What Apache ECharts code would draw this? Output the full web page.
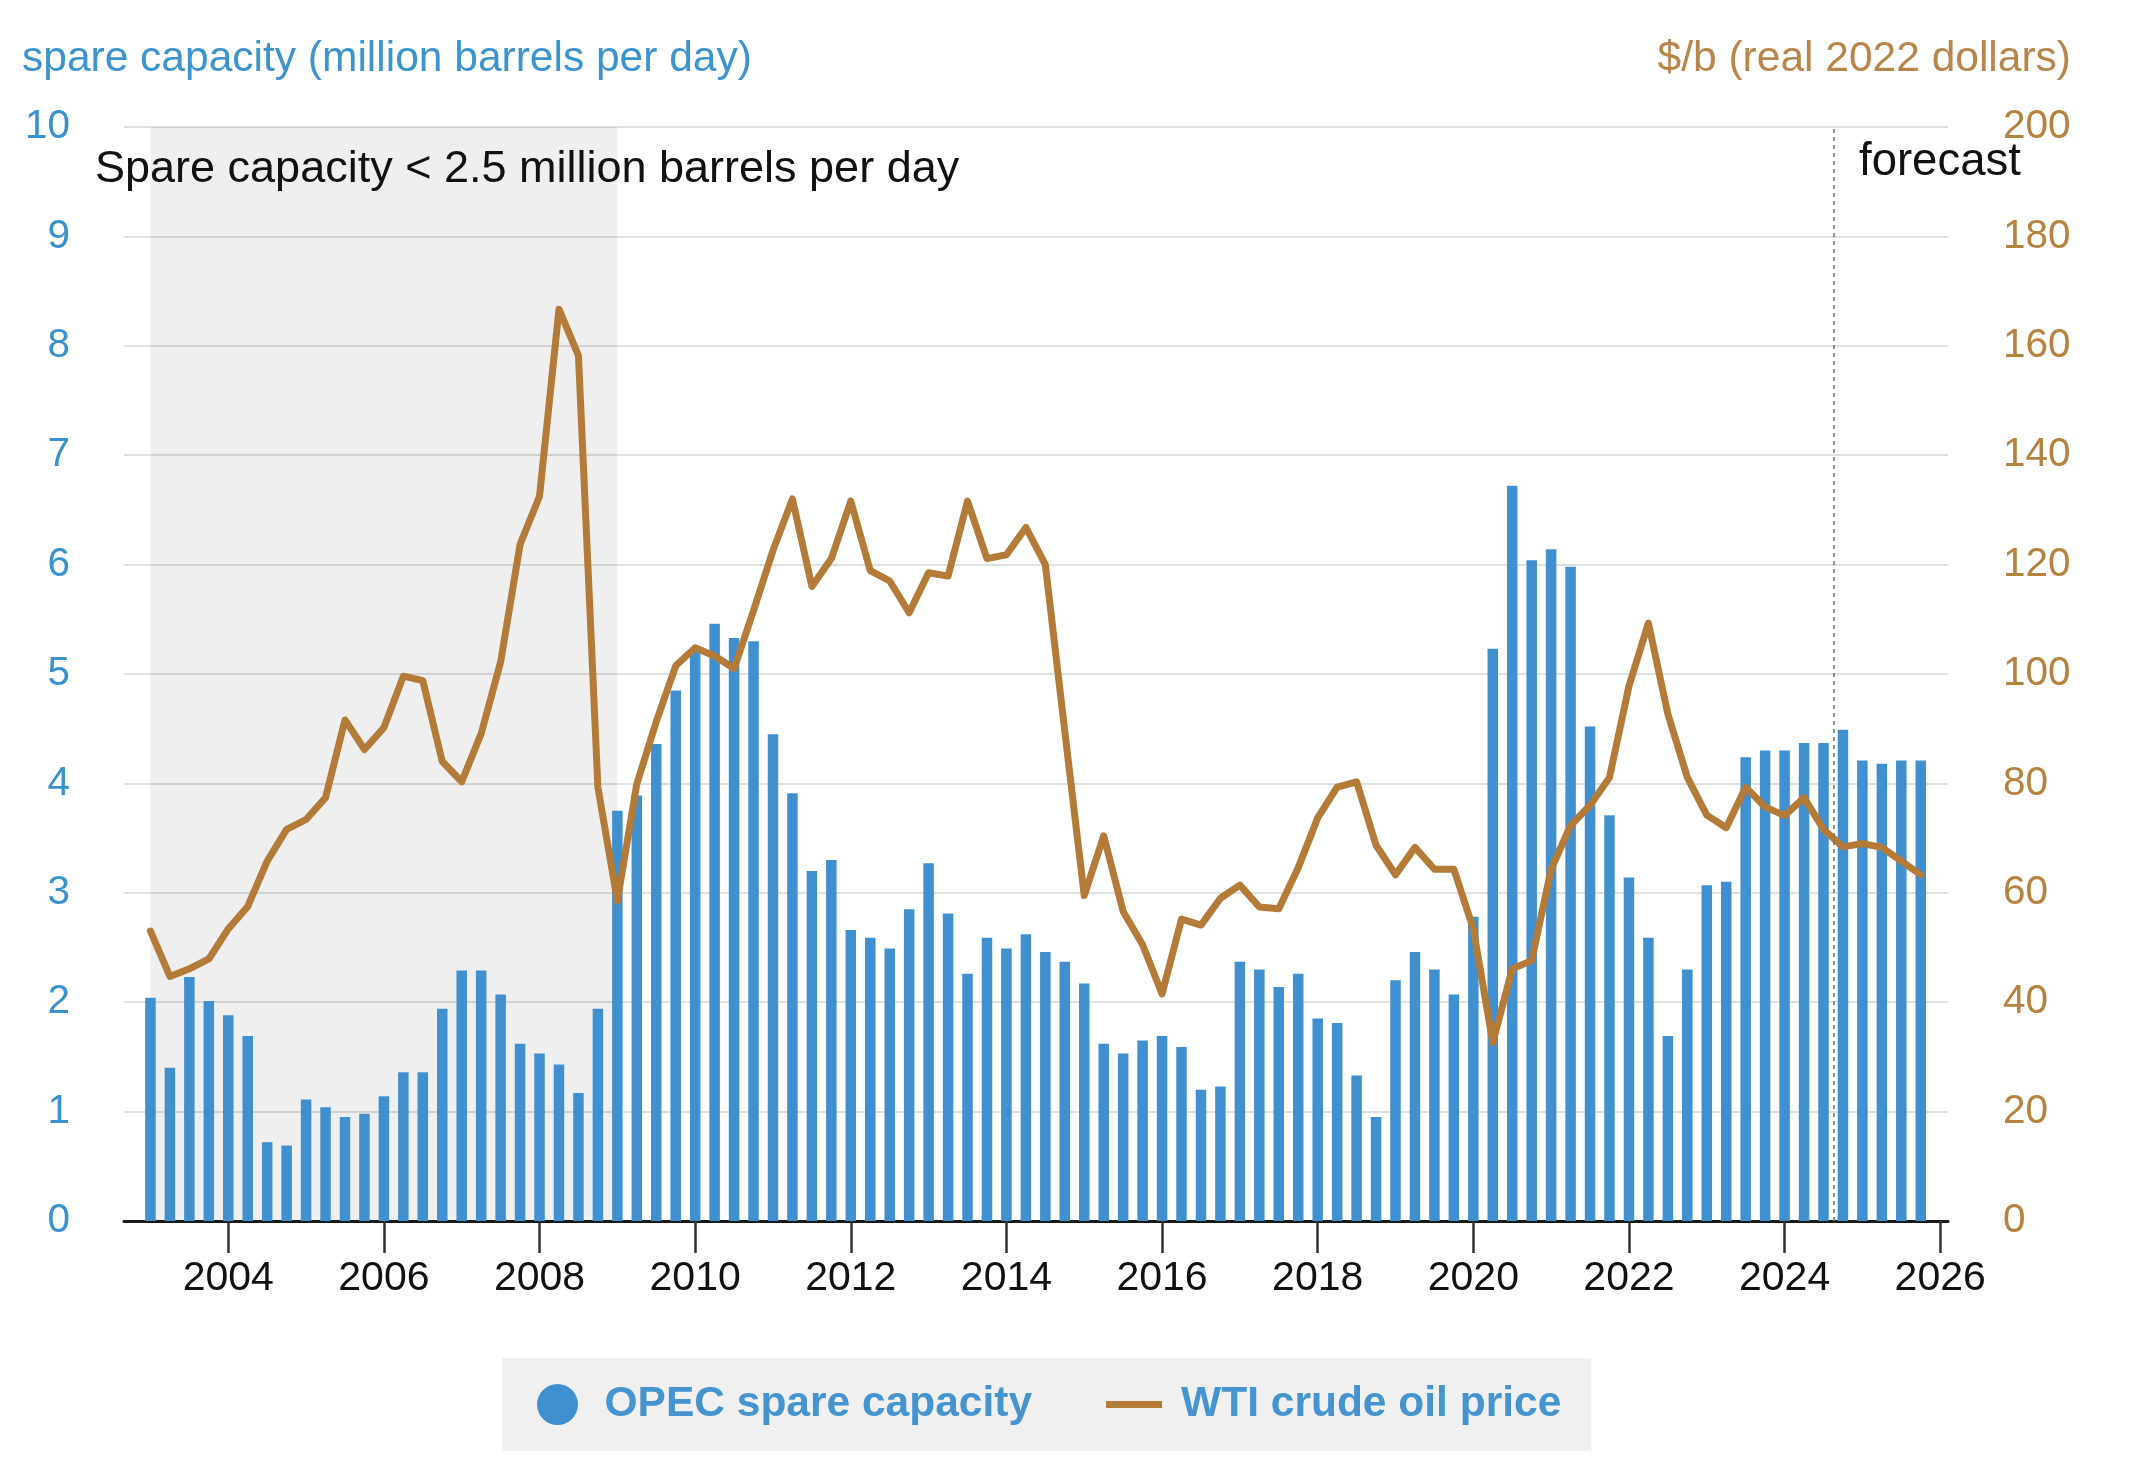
<!DOCTYPE html>
<html>
<head>
<meta charset="utf-8">
<script src="https://cdn.jsdelivr.net/npm/echarts@6/dist/echarts.min.js"></script>
<style>
html,body{margin:0;padding:0;background:#ffffff;}
#chart{width:2140px;height:1480px;}
</style>
</head>
<body>
<div id="chart"></div>
<script>
// ---------------- data ----------------
const years = [2003,2004,2005,2006,2007,2008,2009,2010,2011,2012,2013,2014,2015,2016,2017,2018,2019,2020,2021,2022,2023,2024,2025];
const quarterOffsets = [0, 0.25, 0.5, 0.75];   // Q1..Q4 position within a year

// OPEC spare capacity, million barrels per day (quarterly, 2003Q1 - 2025Q4)
const spareCapacity = [
  2.04, 1.40, 2.23, 2.01,
  1.88, 1.69, 0.72, 0.69,
  1.11, 1.04, 0.95, 0.98,
  1.14, 1.36, 1.36, 1.94,
  2.29, 2.29, 2.07, 1.62,
  1.53, 1.43, 1.17, 1.94,
  3.75, 3.89, 4.36, 4.85,
  5.22, 5.46, 5.33, 5.30,
  4.45, 3.91, 3.20, 3.30,
  2.66, 2.59, 2.49, 2.85,
  3.27, 2.81, 2.26, 2.59,
  2.49, 2.62, 2.46, 2.37,
  2.17, 1.62, 1.53, 1.65,
  1.69, 1.59, 1.20, 1.23,
  2.37, 2.30, 2.14, 2.26,
  1.85, 1.81, 1.33, 0.95,
  2.20, 2.46, 2.30, 2.07,
  2.78, 5.23, 6.72, 6.04,
  6.14, 5.98, 4.52, 3.71,
  3.14, 2.59, 1.69, 2.30,
  3.07, 3.10, 4.24, 4.30,
  4.30, 4.37, 4.37, 4.49,
  4.21, 4.18, 4.21, 4.21
];

// WTI crude oil price, $/b real 2022 dollars (quarterly, 2003Q1 - 2025Q4)
const wtiPrice = [
  53.0, 44.7, 46.1, 47.9,
  53.4, 57.5, 65.8, 71.6,
  73.4, 77.4, 91.6, 86.2,
  90.2, 99.6, 98.8, 84.0,
  80.3, 89.1, 102.2, 123.7,
  132.5, 166.7, 158.2, 79.3,
  58.5, 79.9, 91.3, 101.5,
  104.8, 103.3, 101.0, 111.6,
  122.6, 132.0, 116.0, 121.1,
  131.6, 118.9, 117.0, 111.2,
  118.5, 117.9, 131.6, 121.1,
  121.8, 126.8, 120.0, 89.5,
  59.5, 70.4, 56.6, 50.5,
  41.5, 55.2, 54.1, 59.0,
  61.4, 57.4, 57.1, 64.6,
  73.7, 79.3, 80.3, 68.7,
  63.3, 68.3, 64.3, 64.3,
  53.4, 32.6, 46.1, 47.6,
  64.3, 72.3, 76.0, 81.1,
  97.8, 109.3, 92.7, 81.1,
  74.2, 71.9, 79.3, 75.7,
  74.1, 77.4, 71.6, 68.4,
  69.0, 68.3, 65.8, 63.3
];

const xTickYears = [2004,2006,2008,2010,2012,2014,2016,2018,2020,2022,2024,2026];
const leftTicks = [0,1,2,3,4,5,6,7,8,9,10];
const rightTicks = [0,20,40,60,80,100,120,140,160,180,200];
const lowSpareRange = [2003, 2009];    // "Spare capacity < 2.5 million barrels per day" period
const forecastStart = 2024.625;         // start of forecast period

const seriesNames = ['OPEC spare capacity', 'WTI crude oil price'];
const texts = {
  leftTitle: 'spare capacity (million barrels per day)',
  rightTitle: '$/b (real 2022 dollars)',
  shadeNote: 'Spare capacity < 2.5 million barrels per day',
  forecast: 'forecast'
};

// ---------------- build ----------------
const timePos = [];
years.forEach(y => quarterOffsets.forEach(q => timePos.push(y + q)));
const barData = timePos.map((t, i) => [t, spareCapacity[i]]);
const lineData = timePos.map((t, i) => [t, wtiPrice[i]]);

const FONT = '"Liberation Sans", Arial, Helvetica, sans-serif';
const BLUE = '#4090d0';
const BROWN = '#b47a38';

const chart = echarts.init(document.getElementById('chart'), null, {renderer: 'canvas'});

const option = {
  animation: false,
  backgroundColor: '#ffffff',
  textStyle: {fontFamily: FONT},
  grid: {left: 124, right: 192, top: 127, bottom: 259, containLabel: false},
  legend: {
    left: 502, top: 1358,
    padding: [25, 30, 25, 35],
    backgroundColor: '#f0f0f0',
    itemWidth: 56, itemHeight: 41, itemGap: 74,
    selectedMode: false,
    textStyle: {fontFamily: FONT, fontSize: 42.5, fontWeight: 'bold', color: '#4594d0', padding: [0, 0, 0, 14]},
    data: [
      {name: seriesNames[0], icon: 'circle'},
      {name: seriesNames[1], icon: 'path://M0,0H56V7H0Z'}
    ]
  },
  xAxis: {
    type: 'value',
    min: 2002.66, max: 2026.1,
    splitLine: {show: false},
    axisLine: {show: true, onZero: false, lineStyle: {color: '#1a1a1a', width: 3}},
    axisTick: {show: true, customValues: xTickYears, length: 32, lineStyle: {color: '#333333', width: 2.5}},
    axisLabel: {customValues: xTickYears, fontFamily: FONT, fontSize: 41, color: '#111111', margin: 37,
      formatter: v => String(Math.round(v))}
  },
  yAxis: [
    {
      type: 'value', min: leftTicks[0], max: leftTicks[leftTicks.length - 1], interval: 1,
      axisLine: {show: false}, axisTick: {show: false},
      axisLabel: {fontFamily: FONT, fontSize: 40.5, color: '#3a92cc', margin: 54, padding: [11, 0, 0, 0]},
      splitLine: {show: true, lineStyle: {color: '#e0e0e0', width: 2}}
    },
    {
      type: 'value', position: 'right', min: rightTicks[0], max: rightTicks[rightTicks.length - 1], interval: 20,
      axisLine: {show: false}, axisTick: {show: false},
      axisLabel: {fontFamily: FONT, fontSize: 40.5, color: '#b5833f', margin: 55, padding: [11, 0, 0, 0]},
      splitLine: {show: false}
    }
  ],
  series: [
    {
      name: seriesNames[0],
      type: 'bar',
      yAxisIndex: 0,
      data: barData,
      barWidth: 10.5,
      itemStyle: {color: BLUE},
      z: 2,
      markArea: {
        silent: true,
        itemStyle: {color: 'rgba(0,0,0,0.063)'},
        label: {show: false},
        data: [[{xAxis: lowSpareRange[0]}, {xAxis: lowSpareRange[1]}]]
      }
    },
    {
      name: seriesNames[1],
      type: 'line',
      yAxisIndex: 1,
      data: lineData,
      symbol: 'none',
      lineStyle: {color: BROWN, width: 7, join: 'round', cap: 'round'},
      itemStyle: {color: BROWN},
      z: 3,
      markLine: {
        silent: true,
        symbol: ['none', 'none'],
        label: {show: false},
        lineStyle: {type: [4, 4], color: '#707070', width: 1.5},
        data: [{xAxis: forecastStart}]
      }
    }
  ],
  graphic: [
    {type: 'text', x: 22, y: 59, silent: true,
      style: {text: texts.leftTitle, fill: '#3b94cd', font: '42.5px ' + FONT,
        align: 'left', verticalAlign: 'middle', textAlign: 'left', textVerticalAlign: 'middle'}},
    {type: 'text', x: 2071, y: 59, silent: true,
      style: {text: texts.rightTitle, fill: '#b8854a', font: '42.5px ' + FONT,
        align: 'right', verticalAlign: 'middle', textAlign: 'right', textVerticalAlign: 'middle'}},
    {type: 'text', x: 95, y: 170, silent: true, z: 10,
      style: {text: texts.shadeNote, fill: '#111111', font: '45px ' + FONT,
        align: 'left', verticalAlign: 'middle', textAlign: 'left', textVerticalAlign: 'middle'}},
    {type: 'text', x: 1859, y: 162, silent: true, z: 10,
      style: {text: texts.forecast, fill: '#111111', font: '45.5px ' + FONT,
        align: 'left', verticalAlign: 'middle', textAlign: 'left', textVerticalAlign: 'middle'}}
  ]
};

chart.setOption(option);
</script>
</body>
</html>
